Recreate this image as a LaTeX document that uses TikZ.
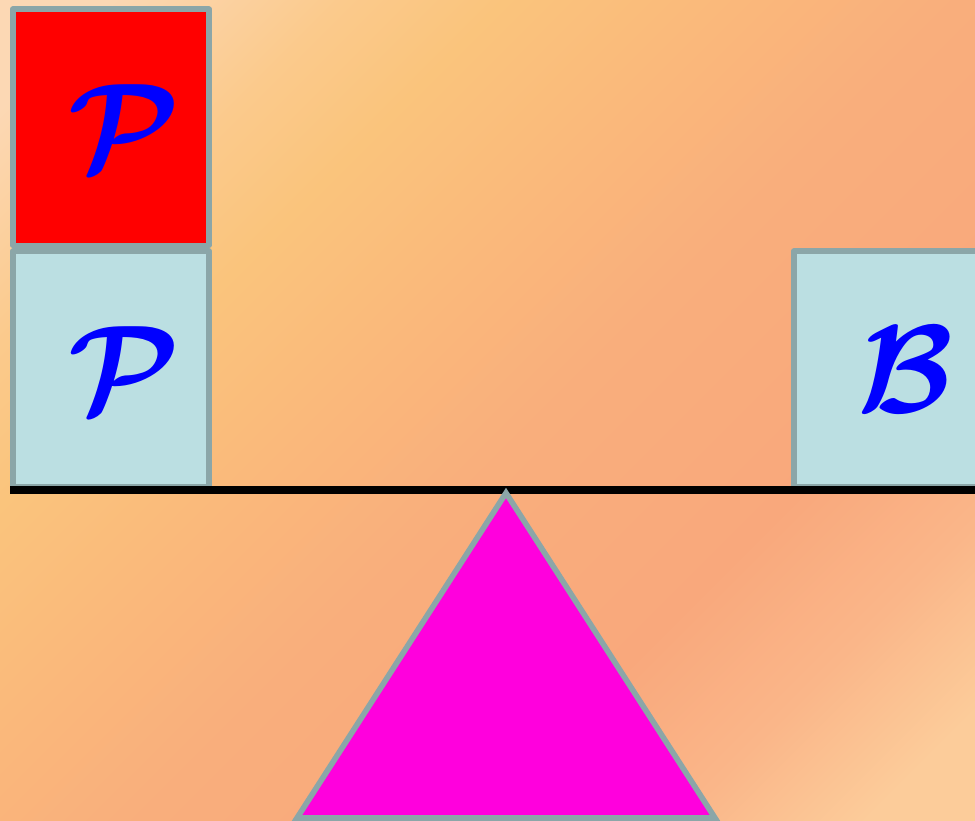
\documentclass[tikz,border=0pt]{standalone}
\usetikzlibrary{positioning}

\definecolor{boxgray}{HTML}{8BA6A8}
\definecolor{boxblue}{HTML}{BBDFE2}
\definecolor{pivotpink}{HTML}{FF00DD}
\definecolor{bgA}{HTML}{FCD8B4}
\definecolor{bgB}{HTML}{FBCA8C}
\definecolor{bgC}{HTML}{FAC47C}
\definecolor{bgD}{HTML}{FAB87B}
\definecolor{bgE}{HTML}{F9AE7C}
\definecolor{bgF}{HTML}{F9A87C}
\definecolor{bgG}{HTML}{FAB689}
\definecolor{bgH}{HTML}{FCCC9A}
\pgfdeclarehorizontalshading{bgshade}{100bp}{color(0bp)=(bgA); color(18.75bp)=(bgA);
  color(28bp)=(bgB); color(34.4bp)=(bgC); color(43.75bp)=(bgD); color(52.5bp)=(bgE);
  color(65.6bp)=(bgF); color(73.75bp)=(bgG); color(81.25bp)=(bgH); color(100bp)=(bgH)}
\newcommand{\bigletter}[1]{\scalebox{1.43}{$\mathcal{#1}$}}

\begin{document}
\begin{tikzpicture}[x=0.01cm,y=-0.01cm,
    block/.style={draw=boxgray, line width=1.6pt, line join=round, fill=boxblue,
      minimum width=1.96cm, minimum height=2.36cm, inner sep=0pt,
      font=\boldmath\fontsize{24.88}{30}\selectfont, text=blue}]
  % 背景
  \shade[shading=bgshade, shading angle=-45] (0,0) rectangle (975,821);
  \useasboundingbox (0,0) rectangle (975,821);

  % 左边两块, 右边一块
  \node[block, anchor=south west] (low) at (10,490) {\hspace{8pt}\bigletter{P}};
  \node[block, fill=red, above=0pt of low] (high) {\hspace{8pt}\bigletter{P}};
  \node[block, anchor=south west] (right) at (791,490) {\hspace{8pt}\bigletter{B}};

  % 杠杆和支点
  \coordinate (pivot) at (506,493);
  \coordinate (beamend) at (975,490);
  \draw[line width=2.2pt] (low.south west) -- (beamend);
  \draw[draw=boxgray, line width=1.6pt, fill=pivotpink]
    (pivot) -- (297,818) -- (715,818) -- cycle;
\end{tikzpicture}
\end{document}
